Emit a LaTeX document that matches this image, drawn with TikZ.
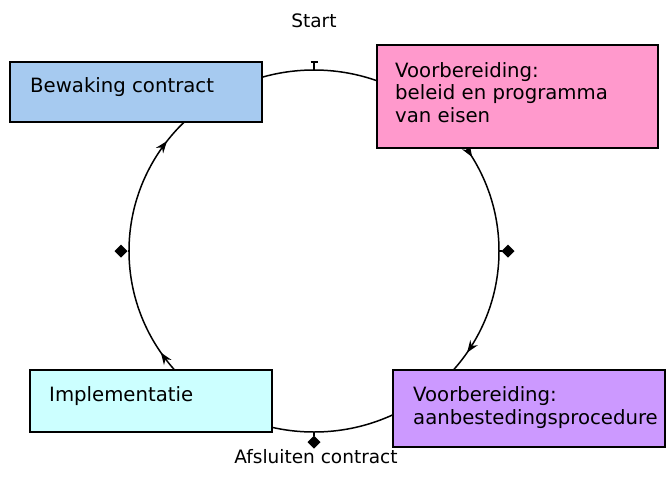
\documentclass[tikz,border=0pt]{standalone}
\usepackage{fontspec}
\setmainfont{DejaVu Sans}
\usetikzlibrary{shapes.geometric,decorations.markings,arrows.meta}

\definecolor{bewakingblue}{HTML}{A6CAF0}
\definecolor{beleidpink}{HTML}{FF99CC}
\definecolor{implcyan}{HTML}{CCFFFF}
\definecolor{aanbestpurple}{HTML}{CC99FF}

\begin{document}
\begin{tikzpicture}[
    x = 1pt,
    y = -1pt,
    >={Stealth[length=12pt, width=9pt]},
    phase/.style = {draw=black, line width=1.4pt, anchor=north west,
              inner sep=0pt, outer sep=0pt},
    phasetext/.style = {anchor=base west, align=left, inner sep=0pt,
              font=\fontsize{19.7}{22.5}\selectfont},
    token/.style = {diamond, fill=black, minimum size=13pt,
              inner sep=0pt, outer sep=0pt},
    ]

\useasboundingbox (0,0) rectangle (672,491);

% the cycle
\coordinate (centre) at (314,251);
\draw [black, line width=1.5pt, postaction={decorate},
    decoration={markings,
        mark=at position 0.094 with {\arrow{>}},
        mark=at position 0.406 with {\arrow{>}},
        mark=at position 0.603 with {\arrow{>}},
        mark=at position 0.914 with {\arrow{>}}}]
    (centre) ellipse [x radius=185, y radius=181];

\coordinate (cycle_top) at (314,70);
\coordinate (cycle_right) at (499,251);
\coordinate (cycle_bottom) at (314,432);
\coordinate (cycle_left) at (129,251);

% phases
\node[phase, fill=bewakingblue, minimum width=252, minimum height=60] (bewaking) at (10,62){};
\node[phase, fill=beleidpink, minimum width=281, minimum height=103] (beleid) at (377,45){};
\node[phase, fill=implcyan, minimum width=242, minimum height=62] (implementatie) at (30,370){};
\node[phase, fill=aanbestpurple, minimum width=272, minimum height=77] (aanbesteding) at (393,370){};

% texts, placed on the baseline of their last line
\node[phasetext] (bewaking_text) at (30,92) {Bewaking contract};
\node[phasetext] (beleid_text) at (395,122) {Voorbereiding:\\beleid en programma\\van eisen};
\node[phasetext] (implementatie_text) at (49,401) {Implementatie};
\node[phasetext] (aanbesteding_text) at (413,424) {Voorbereiding:\\aanbestedingsprocedure};

% markers
\coordinate (start_bar) at (314,62);
\draw [black, line width=1.6pt] (cycle_top) -- (start_bar);
\draw [black, line width=2pt] (310.5,62) -- (317.5,62);

\node[token] (token_right) at (508,251){};
\node[token] (token_left) at (121,251){};
\node[token] (token_bottom) at (314,442){};
\draw [black, line width=1.5pt] (cycle_right) -- (token_right);
\draw [black, line width=1.5pt] (cycle_left) -- (token_left);
\draw [black, line width=1.5pt] (cycle_bottom) -- (token_bottom);

\node[font=\fontsize{18.5}{22}\selectfont, anchor=base] (start) at (314,27) {Start};
\node[font=\fontsize{18.5}{22}\selectfont, anchor=base] (afsluiten) at (316,463) {Afsluiten contract};

\end{tikzpicture}
\end{document}
